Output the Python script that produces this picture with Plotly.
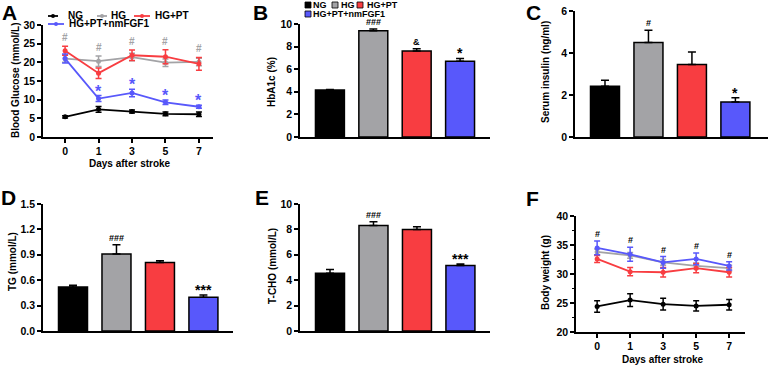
import plotly.graph_objects as go

W, H = 768, 367

# ---------------- data ----------------
groups = ["NG", "HG", "HG+PT", "HG+PT+nmFGF1"]
colors = ["#000000", "#a3a3a6", "#f83d41", "#5858fb"]
days = ["0", "1", "3", "5", "7"]

# A: blood glucose (mmol/L)
bg_ng = [5.4, 7.4, 6.8, 6.2, 6.1]
bg_ng_err = [0.3, 0.8, 0.4, 0.5, 0.6]
bg_hg = [21.0, 20.3, 21.4, 19.9, 20.1]
bg_hg_err = [1.0, 1.4, 1.0, 1.0, 1.0]
bg_pt = [23.1, 17.1, 21.9, 21.5, 19.6]
bg_pt_err = [1.2, 1.4, 1.4, 1.9, 1.7]
bg_fgf = [21.0, 10.3, 11.8, 9.3, 8.1]
bg_fgf_err = [1.2, 0.8, 1.0, 0.6, 0.4]
bg_hash = ["#", "#", "#", "#", "#"]
bg_star = ["", "*", "*", "*", "*"]

# B: HbA1c (%)
hba1c = [4.15, 9.4, 7.6, 6.7]
hba1c_err = [0.06, 0.15, 0.2, 0.25]
hba1c_sig = ["", "###", "&", "*"]

# C: serum insulin (ng/ml)
insulin = [2.42, 4.5, 3.45, 1.67]
insulin_err = [0.28, 0.58, 0.6, 0.2]
insulin_sig = ["", "#", "", "*"]

# D: TG (mmol/L)
tg = [0.52, 0.91, 0.81, 0.40]
tg_err = [0.02, 0.11, 0.02, 0.025]
tg_sig = ["", "###", "", "***"]

# E: T-CHO (mmol/L)
tcho = [4.55, 8.3, 8.0, 5.15]
tcho_err = [0.3, 0.3, 0.2, 0.12]
tcho_sig = ["", "###", "", "***"]

# F: body weight (g)
bw_ng = [24.4, 25.5, 24.8, 24.5, 24.7]
bw_ng_err = [1.0, 1.1, 1.0, 0.9, 0.9]
bw_hg = [33.8, 33.2, 32.0, 31.4, 31.0]
bw_hg_err = [0.5, 0.5, 0.5, 0.5, 0.5]
bw_pt = [32.6, 30.4, 30.3, 31.0, 30.3]
bw_pt_err = [0.6, 0.7, 0.8, 0.8, 0.8]
bw_fgf = [34.5, 33.4, 32.0, 32.6, 31.4]
bw_fgf_err = [1.2, 1.2, 1.0, 1.0, 0.7]
bw_hash = ["#", "#", "#", "#", "#"]

# ---------------- helpers ----------------
FONT = "Liberation Sans, Arial, sans-serif"
day_idx = list(range(len(days)))
grp_idx = list(range(len(groups)))


def fx(p):
    return p / W


def fy(p):
    return 1 - p / H


tickfont = dict(family=FONT, size=10.5, color="black", weight="bold")

axis_common = dict(
    showline=True, linecolor="black", linewidth=1.5, showgrid=False,
    zeroline=False, ticks="outside", ticklen=4, tickwidth=1.5,
    tickcolor="black", tickfont=tickfont, automargin=False,
    tickprefix="<b>", ticksuffix="</b>",
)

fig = go.Figure()


# ---------------- line panels ----------------
def add_lines(series, xa, ya):
    for (mean, err, col) in series:
        fig.add_trace(go.Scatter(
            x=day_idx, y=mean, mode="lines+markers",
            line=dict(color=col, width=1.8),
            marker=dict(color=col, size=5),
            error_y=dict(type="data", array=err, color=col, thickness=1.5, width=3),
            xaxis=xa, yaxis=ya, showlegend=False, cliponaxis=False,
        ))


add_lines([
    (bg_ng, bg_ng_err, colors[0]),
    (bg_hg, bg_hg_err, colors[1]),
    (bg_pt, bg_pt_err, colors[2]),
    (bg_fgf, bg_fgf_err, colors[3]),
], "x", "y")

add_lines([
    (bw_ng, bw_ng_err, colors[0]),
    (bw_hg, bw_hg_err, colors[1]),
    (bw_pt, bw_pt_err, colors[2]),
    (bw_fgf, bw_fgf_err, colors[3]),
], "x6", "y6")


# ---------------- bar panels ----------------
def add_bars(vals, err, xa, ya):
    fig.add_trace(go.Bar(
        x=grp_idx, y=vals, width=0.667,
        marker=dict(color=colors, line=dict(color="black", width=1.5)),
        error_y=dict(type="data", array=err, arrayminus=[0] * len(err),
                     symmetric=False, color="black", thickness=1.5, width=4),
        xaxis=xa, yaxis=ya, showlegend=False,
    ))


add_bars(hba1c, hba1c_err, "x2", "y2")
add_bars(insulin, insulin_err, "x3", "y3")
add_bars(tg, tg_err, "x4", "y4")
add_bars(tcho, tcho_err, "x5", "y5")

annotations = []


# significance marks on bars
def sig_marks(vals, err, sig, xa, ya):
    for g, v, e, s in zip(grp_idx, vals, err, sig):
        if not s:
            continue
        star = s.startswith("*")
        annotations.append(dict(
            x=g, y=v + e, xref=xa, yref=ya, text=s, showarrow=False,
            yanchor="bottom", yshift=(-5 if star else 0),
            font=dict(family=FONT, size=(14 if star else 9), color="black", weight="bold"),
        ))


sig_marks(hba1c, hba1c_err, hba1c_sig, "x2", "y2")
sig_marks(insulin, insulin_err, insulin_sig, "x3", "y3")
sig_marks(tg, tg_err, tg_sig, "x4", "y4")
sig_marks(tcho, tcho_err, tcho_sig, "x5", "y5")

# A significance
for i in day_idx:
    top = max(bg_hg[i] + bg_hg_err[i], bg_pt[i] + bg_pt_err[i])
    annotations.append(dict(x=i, y=top, xref="x", yref="y", text=bg_hash[i],
                            showarrow=False, yanchor="bottom", yshift=1,
                            font=dict(family=FONT, size=10, color=colors[1], weight="bold")))
    if bg_star[i]:
        annotations.append(dict(x=i, y=bg_fgf[i] + bg_fgf_err[i], xref="x", yref="y",
                                text=bg_star[i], showarrow=False, yanchor="bottom", yshift=-6,
                                font=dict(family=FONT, size=16, color=colors[3], weight="bold")))

# F significance
for i in day_idx:
    annotations.append(dict(x=i, y=bw_fgf[i] + bw_fgf_err[i], xref="x6", yref="y6",
                            text=bw_hash[i], showarrow=False, yanchor="bottom", yshift=0,
                            font=dict(family=FONT, size=9, color="black", weight="bold")))

# axis titles (as annotations)
lab_font = dict(family=FONT, size=10, color="black", weight="bold")
ytitles = [
    ("Blood Glucose (mmol/L)", 15, 80),
    ("HbA1c (%)", 272, 82),
    ("Serum insulin (ng/ml)", 545, 72),
    ("TG (mmol/L)", 12, 262),
    ("T-CHO (mmol/L)", 272, 266),
    ("Body weight (g)", 545, 273),
]
for t, px, py in ytitles:
    annotations.append(dict(text=t, x=fx(px), y=fy(py), xref="paper", yref="paper",
                            textangle=-90, showarrow=False, xanchor="center", yanchor="middle",
                            font=lab_font))
for px, py in [(130, 163), (663, 359)]:
    annotations.append(dict(text="Days after stroke", x=fx(px), y=fy(py), xref="paper",
                            yref="paper", showarrow=False, xanchor="center", yanchor="middle",
                            font=lab_font))

# panel letters
for t, px, py in [("A", 9, 12), ("B", 260, 12), ("C", 533, 12),
                  ("D", 8, 197), ("E", 262, 197), ("F", 532, 198)]:
    annotations.append(dict(text=t, x=fx(px), y=fy(py), xref="paper", yref="paper",
                            showarrow=False, xanchor="center", yanchor="middle",
                            font=dict(family=FONT, size=21, color="black", weight="bold")))

# ---------------- custom legends ----------------
shapes = []
leg_font_a = dict(family=FONT, size=10, color="black", weight="bold")
# (glyph x0, glyph x1, text x, y)
leg_a_pos = [(48, 58, 66, 16), (97, 107, 109, 16), (134, 150, 153, 16), (48, 64, 67, 24)]
for name, col, (g0, g1, tx, yy) in zip(groups, colors, leg_a_pos):
    shapes.append(dict(type="line", xref="paper", yref="paper", x0=fx(g0), x1=fx(g1),
                       y0=fy(yy), y1=fy(yy), line=dict(color=col, width=1.8)))
    cx = (g0 + g1) / 2
    shapes.append(dict(type="circle", xref="paper", yref="paper", x0=fx(cx - 2), x1=fx(cx + 2),
                       y0=fy(yy + 2), y1=fy(yy - 2), fillcolor=col, line=dict(color=col, width=0)))
    annotations.append(dict(text=name, x=fx(tx), y=fy(yy), xref="paper", yref="paper",
                            showarrow=False, xanchor="left", yanchor="middle", font=leg_font_a))

leg_font_b = dict(family=FONT, size=9, color="black", weight="bold")
leg_b_pos = [(305, 311, 5), (332, 339, 5), (357, 365, 5), (305, 311, 14)]
for name, col, (sx, tx, yy) in zip(groups, colors, leg_b_pos):
    shapes.append(dict(type="rect", xref="paper", yref="paper", x0=fx(sx), x1=fx(sx + 6),
                       y0=fy(yy + 3), y1=fy(yy - 3), fillcolor=col,
                       line=dict(color="black", width=0.8)))
    annotations.append(dict(text=name, x=fx(tx), y=fy(yy), xref="paper", yref="paper",
                            showarrow=False, xanchor="left", yanchor="middle", font=leg_font_b))


# ---------------- layout ----------------
def dom_x(a, b):
    return [fx(a), fx(b)]


def dom_y(bottom, top):
    return [fy(bottom), fy(top)]


line_x = dict(axis_common, tickvals=day_idx, ticktext=days)
bar_x = dict(axis_common, ticks="", showticklabels=False)

fig.update_layout(
    template="none",
    width=W, height=H, margin=dict(l=0, r=0, t=0, b=0, pad=0, autoexpand=False),
    paper_bgcolor="white", plot_bgcolor="white", showlegend=False,
    xaxis=dict(line_x, domain=dom_x(43, 213), range=[-0.66, 4.42], anchor="y"),
    yaxis=dict(axis_common, domain=dom_y(137, 25), range=[0, 30], dtick=5, anchor="x"),
    xaxis2=dict(bar_x, domain=dom_x(300, 490), range=[-0.69, 3.69], anchor="y2"),
    yaxis2=dict(axis_common, domain=dom_y(137, 24), range=[0, 10], dtick=2, anchor="x2"),
    xaxis3=dict(bar_x, domain=dom_x(575, 768), range=[-0.69, 3.75], anchor="y3"),
    yaxis3=dict(axis_common, domain=dom_y(137, 11), range=[0, 6], dtick=2, anchor="x3"),
    xaxis4=dict(bar_x, domain=dom_x(43, 233), range=[-0.69, 3.68], anchor="y4"),
    yaxis4=dict(axis_common, domain=dom_y(331, 204), range=[0, 1.5], dtick=0.3,
                tickformat=".1f", anchor="x4"),
    xaxis5=dict(bar_x, domain=dom_x(300, 490), range=[-0.69, 3.68], anchor="y5"),
    yaxis5=dict(axis_common, domain=dom_y(331, 204), range=[0, 10], dtick=2, anchor="x5"),
    xaxis6=dict(line_x, domain=dom_x(576, 745), range=[-0.64, 4.48], anchor="y6"),
    yaxis6=dict(axis_common, domain=dom_y(332, 216), range=[20, 40], dtick=5, anchor="x6",
                minor=dict(dtick=2.5, ticks="outside", ticklen=2, tickwidth=1.2,
                           tickcolor="black", showgrid=False)),
    annotations=annotations, shapes=shapes,
)

fig.write_html(
    "out.html",
    config={"displayModeBar": False},
    post_script="document.body.style.margin='0';document.body.style.overflow='hidden';",
)
